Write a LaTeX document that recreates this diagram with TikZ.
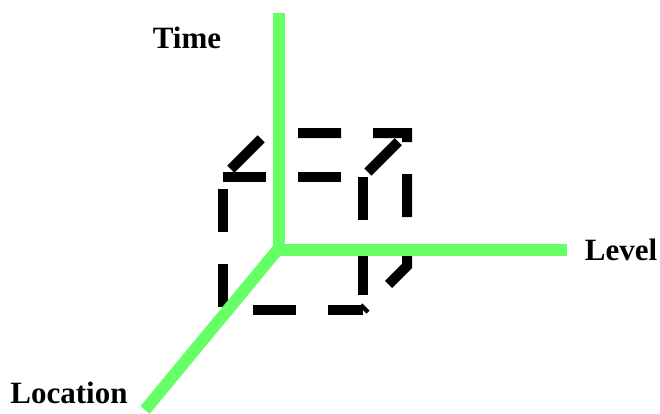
\documentclass[tikz,border=0pt]{standalone}
\usepackage{fontspec}
\setmainfont{Liberation Serif}
\usetikzlibrary{positioning}
\definecolor{axisgreen}{HTML}{66FF66}

\begin{document}
\begin{tikzpicture}[x=1pt, y=-1pt,
  axis/.style={draw=axisgreen, line width=12pt},
  edge/.style={draw=black, line width=10pt, dash pattern=on 43pt off 32pt},
  lbl/.style={font=\fontsize{31}{36}\selectfont\bfseries, inner sep=0pt, anchor=base}
]
\useasboundingbox (0,0) rectangle (660,413);

% cube corners
\coordinate (fa) at (223,177);
\coordinate (fb) at (363,177);
\coordinate (fc) at (363,310);
\coordinate (fd) at (223,310);
\coordinate (ba) at (267,133);
\coordinate (bb) at (407,133);
\coordinate (bc) at (407,266);

% axes
\coordinate (origin) at (279,248);
\coordinate (tend) at (279,13);
\coordinate (lend) at (567,250);
\coordinate (cend) at (145,410);

\node[lbl] (time) at (187,48) {Time};
\node[lbl] (level) at (621,260) {Level};
\node[lbl] (location) at (69,403) {Location};

% dashed cube
\draw[edge] (fa) -- (fb);
\draw[edge, dash phase=63pt] (fa) -- (fd);
\draw[edge, dash phase=45pt] (fd) -- (fc);
\draw[edge] (fb) -- (fc);
\draw[edge, dash phase=64pt] (fa) -- (ba);
\draw[edge, dash phase=68pt] (fb) -- (bb);
\draw[edge, dash phase=44pt] (ba) -- (bb) -- (bc) -- (fc);

% axes on top
\draw[axis] (tend) -- (origin);
\draw[axis] (origin |- lend) -- (lend);
\draw[axis] (origin) -- (cend);

\end{tikzpicture}
\end{document}
